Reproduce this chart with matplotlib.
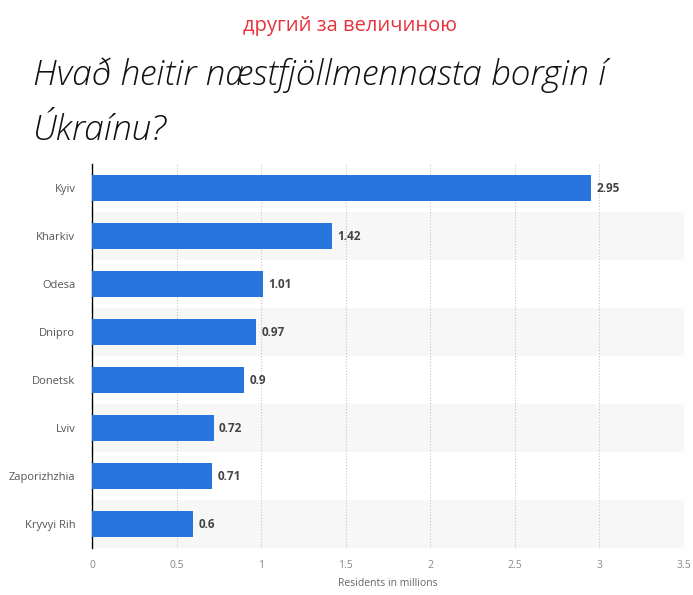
import numpy as np
import matplotlib.pyplot as plt

# data
cities = ['Kyiv', 'Kharkiv', 'Odesa', 'Dnipro', 'Donetsk', 'Lviv', 'Zaporizhzhia', 'Kryvyi Rih']
residents = [2.95, 1.42, 1.01, 0.97, 0.9, 0.72, 0.71, 0.6]
xticks = [0, 0.5, 1, 1.5, 2, 2.5, 3, 3.5]
xtick_labels = ['0', '0.5', '1', '1.5', '2', '2.5', '3', '3.5']

plt.rcParams['font.family'] = ['Open Sans', 'DejaVu Sans']

fig = plt.figure(figsize=(6.93, 5.95), dpi=100)
ax = fig.add_axes([92/693, 1-548/595, 592/693, 384/595])

ypos = np.arange(len(cities))
# alternating row bands
for i in ypos:
    if i % 2 == 1:
        ax.axhspan(i-0.5, i+0.5, color='#f7f7f7', zorder=0, lw=0)

ax.barh(ypos, residents, height=0.56, color='#2876dd', zorder=3)
for y, v in zip(ypos, residents):
    ax.text(v + 0.03, y, f'{v:g}', va='center', ha='left', fontsize=8.5,
            fontweight='bold', color='#444444', zorder=4)

ax.set_ylim(len(cities)-0.5, -0.5)
ax.set_xlim(0, 3.5)
ax.set_yticks(ypos)
ax.set_yticklabels(cities, fontsize=8, color='#555555')
ax.set_xticks(xticks)
ax.set_xticklabels(xtick_labels, fontsize=7.5, color='#888888')
ax.tick_params(axis='both', length=0)
ax.tick_params(axis='y', pad=12)
ax.tick_params(axis='x', pad=9)
ax.grid(axis='x', linestyle=':', color='#c4c4c4', lw=0.8, zorder=1)
for s in ['top', 'right', 'bottom']:
    ax.spines[s].set_visible(False)
ax.spines['left'].set_color('black')
ax.spines['left'].set_linewidth(1)
ax.set_xlabel('Residents in millions', fontsize=7.5, color='#666666', labelpad=5)

fig.text(0.505, 1-26/595, 'другий за величиною', ha='center', va='center',
         fontsize=14.5, color='#e8323c', family=['Open Sans', 'DejaVu Sans'])
fig.text(33/693, 1-75/595, 'Hvað heitir næstfjöllmennasta borgin í',
         ha='left', va='center', fontsize=25.5, style='italic', fontweight='light',
         color='#111111', family=['Open Sans', 'DejaVu Sans'])
fig.text(33/693, 1-130/595, 'Úkraínu?',
         ha='left', va='center', fontsize=25.5, style='italic', fontweight='light',
         color='#111111', family=['Open Sans', 'DejaVu Sans'])

fig.savefig('out.png', dpi=100, facecolor='white')
